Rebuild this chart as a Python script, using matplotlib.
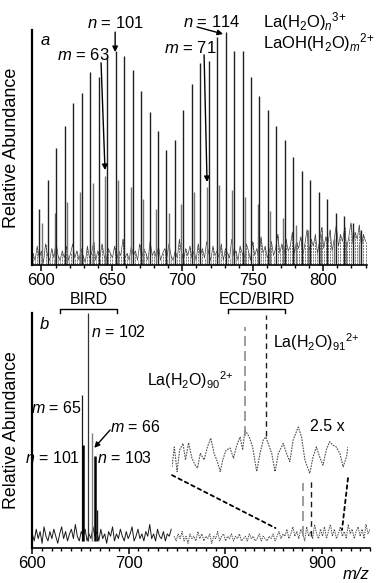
import numpy as np
import matplotlib
matplotlib.use("Agg")
import matplotlib.pyplot as plt
from matplotlib.patches import ConnectionPatch

plt.rcParams['font.family'] = ['Liberation Sans', 'DejaVu Sans']
plt.rcParams['mathtext.fontset'] = 'custom'
plt.rcParams['mathtext.rm'] = 'Liberation Sans'
plt.rcParams['mathtext.it'] = 'Liberation Sans:italic'
plt.rcParams['mathtext.bf'] = 'Liberation Sans:bold'

# ---- panel a: La(H2O)n 3+ series (n = 92..130) ----
n3_mz = [598.6, 604.6, 610.6, 616.6, 622.6, 628.6, 634.6, 640.7, 646.7, 652.7,
         658.7, 664.7, 670.7, 676.7, 682.7, 688.7, 694.7, 700.7, 706.7, 712.7,
         718.7, 724.7, 730.7, 736.7, 742.7, 748.7, 754.7, 760.7, 766.7, 772.7,
         778.7, 784.7, 790.7, 796.8, 802.8, 808.8, 814.8, 820.8, 826.8]
n3_int = [0.24, 0.36, 0.50, 0.59, 0.69, 0.73, 0.82, 0.80, 0.89, 0.91,
          0.89, 0.83, 0.74, 0.65, 0.57, 0.49, 0.53, 0.66, 0.77, 0.86,
          0.87, 0.97, 0.99, 0.91, 0.91, 0.80, 0.72, 0.66, 0.59, 0.53,
          0.46, 0.40, 0.36, 0.31, 0.28, 0.22, 0.21, 0.18, 0.15]

# LaOH(H2O)m 2+ series (m = 58..83)
m2_mz = [600.3, 609.3, 618.3, 627.3, 636.3, 645.3, 654.3, 663.3, 672.3, 681.3,
         690.3, 699.3, 708.3, 717.3, 726.3, 735.3, 744.3, 753.4, 762.4, 771.4,
         780.4, 789.4, 798.4, 807.4, 816.4, 825.4]
m2_int = [0.18, 0.22, 0.27, 0.31, 0.35, 0.38, 0.36, 0.33, 0.28, 0.24,
          0.22, 0.26, 0.31, 0.33, 0.34, 0.32, 0.29, 0.26, 0.23, 0.20,
          0.17, 0.15, 0.13, 0.11, 0.10, 0.09]

# baseline clutter, 594-831
noise_a = [0.05, 0.02, 0.08, 0.03, 0.06, 0.01, 0.09, 0.04, 0.02, 0.07, 0.03, 0.10, 0.04, 0.02, 0.06, 0.03, 0.08, 0.02, 0.05, 0.09,
           0.03, 0.06, 0.02, 0.07, 0.04, 0.01, 0.08, 0.03, 0.05, 0.10, 0.02, 0.06, 0.03, 0.09, 0.04, 0.02, 0.07, 0.05, 0.03, 0.08,
           0.02, 0.06, 0.04, 0.11, 0.03, 0.05, 0.02, 0.08, 0.04, 0.06, 0.02, 0.09, 0.03, 0.07, 0.05, 0.02, 0.10, 0.04, 0.06, 0.03,
           0.08, 0.02, 0.05, 0.07, 0.03, 0.09, 0.04, 0.02, 0.06, 0.03, 0.11, 0.05, 0.02, 0.07, 0.04, 0.08, 0.03, 0.06, 0.02, 0.09,
           0.04, 0.07, 0.03, 0.10, 0.05, 0.02, 0.08, 0.04, 0.06, 0.03, 0.09, 0.02, 0.07, 0.05, 0.03, 0.11, 0.04, 0.06, 0.02, 0.08,
           0.05, 0.03, 0.09, 0.06, 0.02, 0.10, 0.04, 0.07, 0.03, 0.12, 0.05, 0.08, 0.03, 0.06, 0.10, 0.04, 0.07, 0.13, 0.05, 0.09,
           0.04, 0.11, 0.06, 0.08, 0.14, 0.05, 0.10, 0.07, 0.12, 0.04, 0.09, 0.15, 0.06, 0.11, 0.08, 0.13, 0.05, 0.10, 0.16, 0.07,
           0.12, 0.09, 0.15, 0.06, 0.11, 0.17, 0.08, 0.13, 0.10, 0.16, 0.07, 0.12, 0.18, 0.09, 0.14, 0.11, 0.17, 0.08, 0.13, 0.10]

# ---- panel b ----
bird_mz = [651.8, 653.0, 658.2, 662.0, 665.0, 667.5]
bird_int = [0.65, 0.44, 1.00, 0.49, 0.39, 0.16]
bird_col = ['0.1', '0.0', '0.2', '0.5', '0.0', '0.1']
bird_lw = [0.9, 1.8, 0.9, 1.0, 1.8, 1.0]

ecd_mz = [880.8, 888.9]
ecd_int = [0.277, 0.297]

# baseline 600-744 (BIRD spectrum) and 747-950 (ECD/BIRD spectrum)
noise_b_left = [0.06, 0.03, 0.08, 0.04, 0.07, 0.02, 0.09, 0.05, 0.03, 0.07, 0.04, 0.08, 0.05, 0.02, 0.06, 0.09, 0.04, 0.07,
                0.03, 0.06, 0.08, 0.04, 0.10, 0.05, 0.03, 0.07, 0.05, 0.08, 0.03, 0.06, 0.04, 0.09, 0.05, 0.07, 0.03, 0.08,
                0.04, 0.06, 0.02, 0.07, 0.05, 0.09, 0.03, 0.06, 0.04, 0.08, 0.05, 0.03, 0.07, 0.04, 0.06, 0.09, 0.03, 0.05,
                0.08, 0.04, 0.06, 0.03, 0.07, 0.05, 0.10, 0.04, 0.06, 0.03, 0.08, 0.05, 0.04, 0.07, 0.03, 0.06, 0.05, 0.08]
noise_b_right = [0.05, 0.03, 0.06, 0.04, 0.07, 0.03, 0.05, 0.02, 0.06, 0.04, 0.05, 0.03, 0.07, 0.04, 0.06, 0.03, 0.05, 0.04, 0.06, 0.02,
                 0.05, 0.04, 0.07, 0.03, 0.05, 0.06, 0.03, 0.05, 0.04, 0.06, 0.03, 0.05, 0.04, 0.06, 0.03, 0.04, 0.05, 0.03, 0.06, 0.04,
                 0.05, 0.03, 0.04, 0.06, 0.03, 0.05, 0.04, 0.03, 0.05, 0.04, 0.06, 0.03, 0.05, 0.07, 0.04, 0.06, 0.05, 0.08, 0.04, 0.06,
                 0.09, 0.05, 0.07, 0.04, 0.08, 0.06, 0.03, 0.09, 0.05, 0.07, 0.04, 0.10, 0.06, 0.04, 0.08, 0.05, 0.09, 0.04, 0.07, 0.10,
                 0.05, 0.08, 0.04, 0.06, 0.09, 0.05, 0.07, 0.04, 0.10, 0.06, 0.08, 0.04, 0.07, 0.09, 0.05, 0.08, 0.04, 0.10, 0.06, 0.08]

# 2.5x expanded region 852-921
zoom_range = [852, 921]
inset_mz = [852.0, 852.9, 854.0, 855.0, 856.3, 857.3, 858.5, 859.8, 861.1, 862.0, 863.1, 864.6,
            865.9, 867.2, 868.5, 869.8, 870.9, 871.9, 873.2, 874.8, 876.1, 877.4, 878.7, 879.7,
            880.6, 882.3, 883.6, 885.2, 886.5, 887.8, 888.8, 891.1, 892.4, 893.7, 895.6, 896.9,
            898.2, 899.5, 901.5, 902.8, 904.1, 906.0, 907.3, 908.6, 909.9, 911.2, 912.5, 913.8,
            915.1, 916.4, 917.8, 919.1, 920.4, 921.0]
inset_int = [0.038, 0.072, 0.030, 0.067, 0.078, 0.050, 0.079, 0.053, 0.041, 0.036, 0.061, 0.050,
             0.072, 0.087, 0.061, 0.047, 0.030, 0.050, 0.067, 0.070, 0.053, 0.075, 0.089, 0.067,
             0.101, 0.089, 0.072, 0.030, 0.061, 0.084, 0.089, 0.061, 0.030, 0.061, 0.078, 0.061,
             0.047, 0.084, 0.106, 0.089, 0.050, 0.027, 0.055, 0.072, 0.055, 0.041, 0.067, 0.081,
             0.075, 0.072, 0.061, 0.038, 0.055, 0.072]

W, H = 383, 583
fig = plt.figure(figsize=(W / 100, H / 100), dpi=100)


def style_axis(ax, major, minor):
    for s in ['top', 'right']:
        ax.spines[s].set_visible(False)
    ax.spines['left'].set_linewidth(1.6)
    ax.spines['bottom'].set_linewidth(1.2)
    ax.set_yticks([])
    ax.set_xticks(major)
    ax.set_xticks(minor, minor=True)
    ax.tick_params(axis='x', which='major', direction='out', length=4, width=1.1, labelsize=12, pad=2)
    ax.tick_params(axis='x', which='minor', direction='out', length=2.5, width=1.0)
    ax.set_ylim(0, 1)


ap = dict(arrowstyle='-|>', color='black', lw=1.0, mutation_scale=8, shrinkA=0, shrinkB=0)

# ---------------- panel a ----------------
axa = fig.add_axes([32 / W, 1 - 265 / H, 335 / W, 235 / H])
style_axis(axa, [600, 650, 700, 750, 800], np.arange(600, 831, 10))
axa.set_xlim(593.3, 831)
xa = np.linspace(594, 830, len(noise_a))
axa.vlines(xa, 0.005, noise_a, color='0.45', lw=0.7, linestyles=(0, (2, 1)))
axa.plot(xa, noise_a, color='0.25', lw=0.5)
axa.vlines(m2_mz, 0, m2_int, color='0.45', lw=1.0)
axa.vlines(n3_mz, 0, n3_int, color='0.12', lw=1.0)
axa.set_ylabel('Relative Abundance', fontsize=13)
axa.yaxis.set_label_coords(-0.036, 0.5)
axa.text(0.027, 0.957, 'a', transform=axa.transAxes, fontsize=12, style='italic', ha='left', va='center')

axa.annotate('', xy=(652.3, 0.906), xytext=(652.3, 0.991), arrowprops=ap, annotation_clip=False)
axa.text(652.9, 1.03, '$n$ = 101', fontsize=12, ha='center', va='center', clip_on=False)
axa.annotate('', xy=(645.1, 0.404), xytext=(642.3, 0.86), arrowprops=ap, annotation_clip=False)
axa.text(629.9, 0.894, '$m$ = 63', fontsize=12, ha='center', va='center')
axa.annotate('', xy=(728.9, 0.983), xytext=(710.4, 1.013), arrowprops=ap, annotation_clip=False)
axa.text(720.7, 1.034, '$n$ = 114', fontsize=12, ha='center', va='center', clip_on=False)
axa.annotate('', xy=(717.5, 0.353), xytext=(715.4, 0.894), arrowprops=ap, annotation_clip=False)
axa.text(705.4, 0.923, '$m$ = 71', fontsize=12, ha='center', va='center')
axa.text(0.69, 1.036, r'La(H$_2$O)$_{n}{}^{3{+}}$', transform=axa.transAxes, fontsize=12,
         ha='left', va='center')
axa.text(0.69, 0.946, r'LaOH(H$_2$O)$_{m}{}^{2{+}}$', transform=axa.transAxes, fontsize=12,
         ha='left', va='center')

# ---------------- panel b ----------------
axb = fig.add_axes([32.3 / W, 1 - 548 / H, 337.7 / W, 235 / H])
style_axis(axb, [600, 700, 800, 900], np.arange(600, 951, 10))
axb.set_xlim(600, 950)
axb.plot(np.linspace(600, 744, len(noise_b_left)), noise_b_left, color='0.1', lw=0.7)
axb.plot(np.linspace(747, 950, len(noise_b_right)), noise_b_right, color='0.3', lw=0.7, ls=(0, (1.5, 1)))
axb.vlines(bird_mz, 0.03, bird_int, colors=bird_col, linewidths=bird_lw)
axb.vlines(ecd_mz[0], 0.05, ecd_int[0], color='0.55', lw=1.2, linestyles=(0, (6, 3)))
axb.vlines(ecd_mz[1], 0.05, ecd_int[1], color='0.1', lw=1.0, linestyles=(0, (4, 3)))
axb.set_ylabel('Relative Abundance', fontsize=12.8)
axb.yaxis.set_label_coords(-0.036, 0.5)
axb.text(0.023, 0.949, 'b', transform=axb.transAxes, fontsize=12, style='italic', ha='left', va='center')
axb.text(1.0, -0.112, 'm/z', transform=axb.transAxes, fontsize=12, style='italic', ha='right', va='center')

# brackets
for lo, hi, lab in [(628.7, 687.9, 'BIRD'), (802.8, 861.9, 'ECD/BIRD')]:
    axb.plot([lo, lo, hi, hi], [1.0, 1.017, 1.017, 1.0], color='black', lw=1.0, clip_on=False)
    axb.text((lo + hi) / 2, 1.058, lab, fontsize=11.5, ha='center', va='center')

fs = 11.5
axb.text(660.8, 0.919, '$n$ = 102', fontsize=fs, ha='left', va='center')
axb.text(651.5, 0.596, '$m$ = 65', fontsize=fs, ha='right', va='center')
axb.text(680.6, 0.515, '$m$ = 66', fontsize=fs, ha='left', va='center')
axb.annotate('', xy=(664.2, 0.426), xytext=(680.6, 0.502), arrowprops=ap)
axb.text(649.4, 0.383, '$n$ = 101', fontsize=fs, ha='right', va='center')
axb.text(667.1, 0.383, '$n$ = 103', fontsize=fs, ha='left', va='center')
axb.text(849.4, 0.877, r'La(H$_2$O)$_{91}{}^{2{+}}$', fontsize=fs, ha='left', va='center')
axb.text(718.9, 0.715, r'La(H$_2$O)$_{90}{}^{2{+}}$', fontsize=fs, ha='left', va='center')
axb.text(887.7, 0.515, '2.5 x', fontsize=fs, ha='left', va='center')

# inset: 2.5x expansion
axi = fig.add_axes([172 / W, 1 - 548 / H, 176 / W, 235 / H])
axi.set_xlim(*zoom_range)
axi.set_ylim(-0.10, 0.30)
axi.axis('off')
axi.plot(inset_mz, inset_int, color='0.3', lw=0.8, ls=(0, (1.5, 1)))
axi.vlines(ecd_mz[0], 0.09, ecd_int[0], color='0.55', lw=1.2, linestyles=(0, (6, 3)))
axi.vlines(ecd_mz[1], 0.09, ecd_int[1], color='0.1', lw=1.0, linestyles=(0, (4, 3)))

for x, yi, yb in [(zoom_range[0], 0.024, 0.085), (zoom_range[1], 0.019, 0.077)]:
    con = ConnectionPatch(xyA=(x, yi), coordsA=axi.transData, xyB=(x, yb), coordsB=axb.transData,
                          color='black', lw=1.3, ls=(0, (2, 2)))
    fig.add_artist(con)

fig.savefig('out.png', dpi=100)
